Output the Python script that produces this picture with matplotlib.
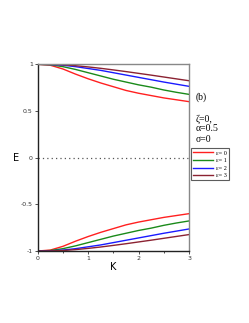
import matplotlib
matplotlib.use("Agg")
import matplotlib.pyplot as plt

K = [0, 0.25, 0.5, 0.75, 1.0, 1.25, 1.5, 1.75, 2.0, 2.25, 2.5, 2.75, 3.0]
E_eps0 = [1, 0.99, 0.95, 0.895, 0.845, 0.80, 0.76, 0.72, 0.69, 0.665, 0.64, 0.62, 0.60]
E_eps1 = [1, 0.995, 0.975, 0.945, 0.91, 0.875, 0.84, 0.81, 0.78, 0.755, 0.725, 0.70, 0.678]
E_eps2 = [1, 0.998, 0.99, 0.975, 0.955, 0.935, 0.91, 0.885, 0.86, 0.835, 0.81, 0.787, 0.764]
E_eps3 = [1, 0.999, 0.995, 0.985, 0.972, 0.957, 0.94, 0.922, 0.903, 0.884, 0.864, 0.844, 0.824]
labels = ["ε= 0", "ε= 1", "ε= 2", "ε= 3"]
colors = ["#ff2020", "#1a8a1a", "#1a1aff", "#8b2232"]
yticks = [-1, -0.5, 0, 0.5, 1]
yticklabels = ["-1", "-0.5", "0", "0.5", "1"]
xticks = [0, 1, 2, 3]

fig = plt.figure(figsize=(2.49, 3.23), dpi=100)
ax = fig.add_axes([0.1514, 0.2229, 0.6077, 0.578])

series = [E_eps0, E_eps1, E_eps2, E_eps3]
handles = []
for vals, c, lab in zip(series, colors, labels):
    h, = ax.plot(K, vals, color=c, lw=1.0, label=lab)
    ax.plot(K, [-v for v in vals], color=c, lw=1.0)
    handles.append(h)

ax.axhline(0, color="#555555", lw=0.9, ls=(0, (1, 2.5)))
ax.set_xlim(0, 3)
ax.set_ylim(-1, 1)
ax.set_xticks(xticks)
ax.set_xticks([0.5, 1.5, 2.5], minor=True)
ax.set_yticks(yticks)
ax.set_yticklabels(yticklabels)
ax.tick_params(axis="both", labelsize=4.5, length=2, width=0.6, colors="#333333", pad=1.5)
ax.tick_params(axis="both", which="minor", length=1.2, width=0.5)
for s in ["left", "bottom"]:
    ax.spines[s].set_color("#222222")
    ax.spines[s].set_linewidth(1.0)
for s in ["top", "right"]:
    ax.spines[s].set_color("#888888")
    ax.spines[s].set_linewidth(1.0)

fig.text(16 / 249, 1 - 158 / 323, "E", fontsize=7, ha="center", va="center", family="DejaVu Sans")
fig.text(113 / 249, 1 - 267 / 323, "K", fontsize=7, ha="center", va="center", family="DejaVu Sans")

serif = "Liberation Serif"
fig.text(196 / 249, 1 - 97 / 323, "(b)", fontsize=7, ha="left", va="center", family=serif)
fig.text(196 / 249, 1 - 119 / 323, "ζ=0,", fontsize=7, ha="left", va="center", family=serif)
fig.text(196 / 249, 1 - 128.5 / 323, "α=0.5", fontsize=7, ha="left", va="center", family=serif)
fig.text(196 / 249, 1 - 139 / 323, "σ=0", fontsize=7, ha="left", va="center", family=serif)

leg = fig.legend(handles=handles, loc="upper left", bbox_to_anchor=(191 / 249, 1 - 148 / 323),
                 prop={"family": serif, "size": 4.5}, frameon=True, fancybox=False,
                 handlelength=3.2, handletextpad=0.5, borderpad=0.35, labelspacing=0.35,
                 borderaxespad=0)
leg.get_frame().set_edgecolor("#333333")
leg.get_frame().set_linewidth(0.8)

fig.savefig("out.png", dpi=100)
